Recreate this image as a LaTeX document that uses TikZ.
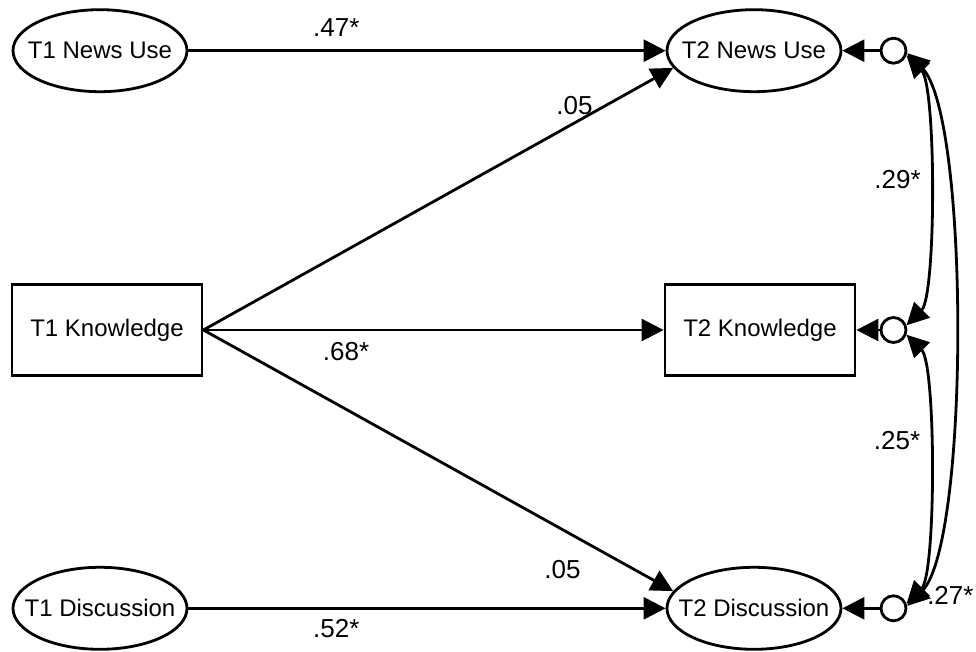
\documentclass[tikz,border=0pt]{standalone}
\usepackage{fontspec}
\setmainfont{Liberation Sans}
\usetikzlibrary{positioning, arrows.meta, shapes.geometric}

\begin{document}
\begin{tikzpicture}[
    >={Triangle[length=11pt, width=11pt]},
    font=\fontsize{12}{14}\selectfont,
    latent/.style={ellipse, draw=black, line width=1.4pt, minimum width=87pt, minimum height=41pt, inner xsep=-20pt, inner ysep=0pt},
    observed/.style={rectangle, draw=black, line width=1.4pt, minimum width=95pt, minimum height=45.5pt},
    resid/.style={circle, draw=black, line width=1.4pt, minimum size=12.5pt, inner sep=0pt},
    effect/.style={->, draw=black, line width=1.4pt},
    covar/.style={<->, draw=black, line width=1.4pt},
    coef/.style={font=\fontsize{13}{15}\selectfont, inner sep=3.33pt}
]
\useasboundingbox (-53.5pt,-161pt) rectangle (434.5pt,165pt);

% Variables
\node[observed] (k1) {T1 Knowledge};
\node[latent, above=95pt of k1, xshift=-3.5pt] (n1) {T1 News Use};
\node[latent, below=94.5pt of k1, xshift=-3.5pt] (d1) {T1 Discussion};
\node[latent, right=238.6pt of n1] (n2) {T2 News Use};
\node[observed, right=230.1pt of k1] (k2) {T2 Knowledge};
\node[latent, right=238.6pt of d1] (d2) {T2 Discussion};

% Disturbances
\node[resid, right=18.6pt of n2] (e1) {};
\node[resid, right=11.6pt of k2] (e2) {};
\node[resid, right=18.6pt of d2] (e3) {};

% Structural paths
\draw[effect] (n1) -- node[coef, pos=0.31, above=3pt] {.47*} (n2);
\draw[effect] (k1.east) -- node[coef, pos=0.79, above] {.05} (n2.192);
\draw[effect] (k1) -- node[coef, pos=0.31, below=2pt] {.68*} (k2);
\draw[effect] (k1.east) -- node[coef, pos=0.82, below left=4pt and 0pt] {.05} (d2.168);
\draw[effect] (d1) -- node[coef, pos=0.31, below=1.5pt] {.52*} (d2);

\draw[effect] (e1) -- (n2);
\draw[effect] (e2) -- (k2);
\draw[effect] (e3) -- (d2);

% Residual covariances
\draw[covar] (e1.-20) to[out=-45, in=45, looseness=0.4] node[coef, pos=0.47, left] {.29*} (e2.20);
\draw[covar] (e2.-20) to[out=-45, in=45, looseness=0.4] node[coef, pos=0.42, left] {.25*} (e3.20);
\draw[covar] (e1.-10) to[out=-45, in=45, looseness=0.41] node[coef, at end, right=6pt, yshift=5pt] {.27*} (e3.10);

\end{tikzpicture}
\end{document}
